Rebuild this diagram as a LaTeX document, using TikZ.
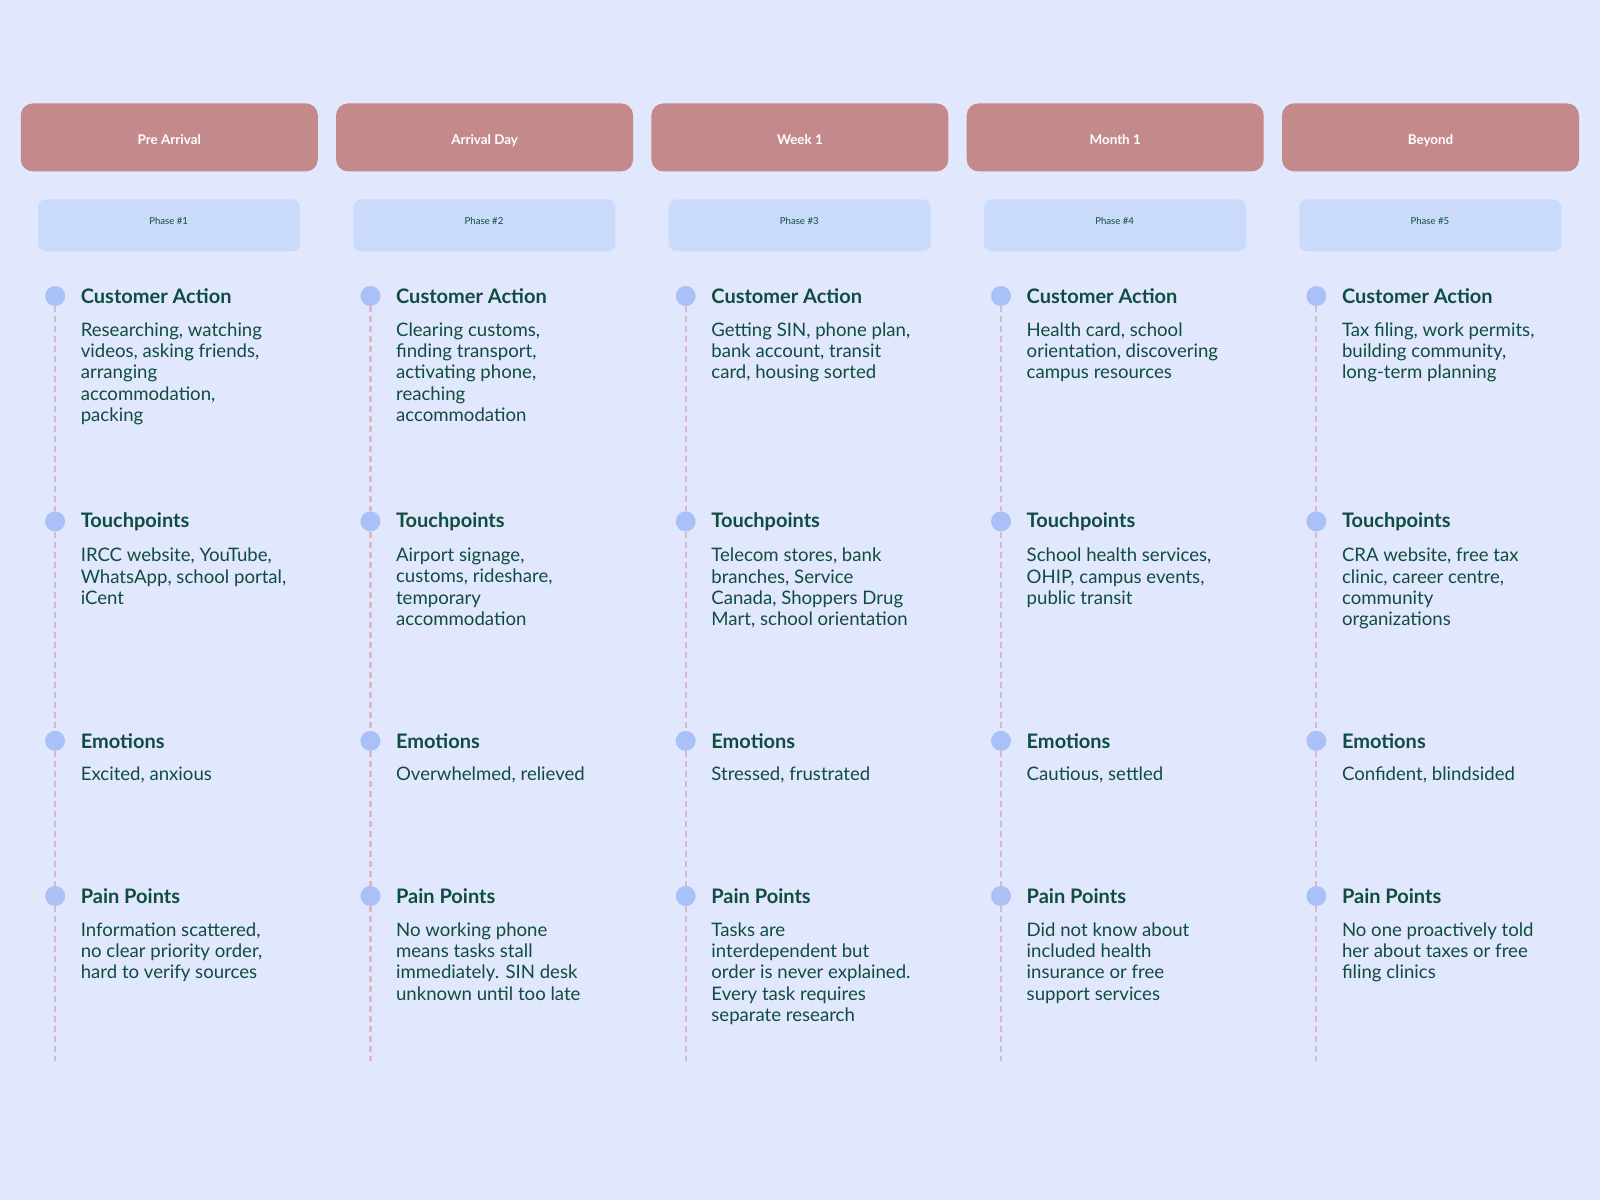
\documentclass[tikz,border=0pt]{standalone}
\usepackage{fontspec}
\setmainfont{Lato}
\definecolor{bg}{HTML}{E1E7FD}
\definecolor{hdr}{HTML}{C4898A}
\definecolor{ph}{HTML}{C9DAFA}
\definecolor{dot}{HTML}{A9C1F7}
\definecolor{dash}{HTML}{D9B9C8}
\definecolor{txt}{HTML}{0F4D3F}
\tikzset{
 hdrbox/.style={fill=hdr,rounded corners=6pt,minimum width=148.5pt,minimum height=34pt,anchor=north west,text=white,text height=1.6ex,text depth=0.2ex,font=\fontsize{6.7}{8}\selectfont\bfseries},
 phbox/.style={fill=ph,rounded corners=4pt,minimum width=131pt,minimum height=26pt,anchor=north west,text=txt,font=\fontsize{4.8}{6}\selectfont},
 phtext/.style={inner sep=0pt,text=txt,font=\fontsize{4.8}{6}\selectfont},
 sdot/.style={circle,fill=dot,minimum size=10pt,inner sep=0pt},
 ttl/.style={anchor=west,inner sep=0pt,text=txt,font=\fontsize{10}{12}\selectfont\bfseries},
 body/.style={anchor=north west,inner sep=0pt,text=txt,align=left,font=\fontsize{9.3}{10.7}\selectfont},
 vline/.style={draw=dash,line width=1.1pt,dash pattern=on 3pt off 2pt}
}
\newcommand\jcol[7]{%
 \pgfmathsetmacro\cx{20.4+315.3*(#1-1)}
 \node[hdrbox] (h#1) at (\cx,103) {#2};
 \node[phbox] (p#1) at (\cx+17.3,199) {};
 \node[phtext] (pt#1) at (\cx+148.3,220.5) {#3};
 \node[sdot] (d1#1) at (\cx+34.7,296) {};
 \node[sdot] (d2#1) at (\cx+34.7,521.4) {};
 \node[sdot] (d3#1) at (\cx+34.7,740.8) {};
 \node[sdot] (d4#1) at (\cx+34.7,896) {};
 \coordinate (e#1) at (\cx+34.7,1061);
 \draw[vline] (d1#1) -- (d2#1) (d2#1) -- (d3#1) (d3#1) -- (d4#1) (d4#1) -- (e#1);
 \node[ttl] (t1#1) at (\cx+60,296) {Customer Action};
 \node[ttl] (t2#1) at (\cx+60,521.4) {Touchpoints};
 \node[ttl] (t3#1) at (\cx+60,740.8) {Emotions};
 \node[ttl] (t4#1) at (\cx+60,896) {Pain Points};
 \node[body] (b1#1) at (\cx+60,322) {#4};
 \node[body] (b2#1) at (\cx+60,547.5) {#5};
 \node[body] (b3#1) at (\cx+60,766) {#6};
 \node[body] (b4#1) at (\cx+60,922) {#7};
}
\begin{document}
\begin{tikzpicture}[x=0.5pt,y=-0.5pt]
\fill[bg] (0,0) rectangle (1600,1200);
\useasboundingbox (0,0) rectangle (1600,1200);
\jcol{1}{Pre Arrival}{Phase \#1}{Researching, watching\\videos, asking friends,\\arranging\\accommodation,\\packing}{IRCC website, YouTube,\\WhatsApp, school portal,\\iCent}{Excited, anxious}{Information scattered,\\no clear priority order,\\hard to verify sources}
\jcol{2}{Arrival Day}{Phase \#2}{Clearing customs,\\finding transport,\\activating phone,\\reaching\\accommodation}{Airport signage,\\customs, rideshare,\\temporary\\accommodation}{Overwhelmed, relieved}{No working phone\\means tasks stall\\immediately. SIN desk\\unknown until too late}
\jcol{3}{Week 1}{Phase \#3}{Getting SIN, phone plan,\\bank account, transit\\card, housing sorted}{Telecom stores, bank\\branches, Service\\Canada, Shoppers Drug\\Mart, school orientation}{Stressed, frustrated}{Tasks are\\interdependent but\\order is never explained.\\Every task requires\\separate research}
\jcol{4}{Month 1}{Phase \#4}{Health card, school\\orientation, discovering\\campus resources}{School health services,\\OHIP, campus events,\\public transit}{Cautious, settled}{Did not know about\\included health\\insurance or free\\support services}
\jcol{5}{Beyond}{Phase \#5}{Tax filing, work permits,\\building community,\\long-term planning}{CRA website, free tax\\clinic, career centre,\\community\\organizations}{Confident, blindsided}{No one proactively told\\her about taxes or free\\filing clinics}
\end{tikzpicture}
\end{document}
